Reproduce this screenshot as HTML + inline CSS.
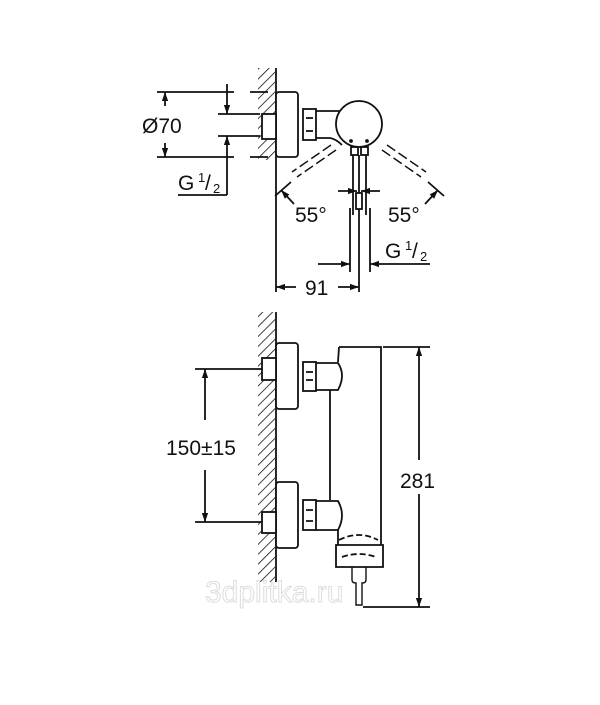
<!DOCTYPE html>
<html><head><meta charset="utf-8"><style>
html,body{margin:0;padding:0;background:#fff}
svg{display:block}
text{font-family:"Liberation Sans",Arial,sans-serif;fill:#111}
</style></head><body>
<svg width="600" height="705" viewBox="0 0 600 705" xmlns="http://www.w3.org/2000/svg">
<defs>
<pattern id="h" width="7" height="7" patternUnits="userSpaceOnUse" patternTransform="rotate(45)">
<line x1="0" y1="0" x2="0" y2="7" stroke="#111" stroke-width="1.6"/>
</pattern>
<marker id="a" viewBox="0 0 10 10" refX="10" refY="5" markerWidth="9" markerHeight="9" orient="auto-start-reverse" markerUnits="userSpaceOnUse">
<path d="M0,1.5 L10,5 L0,8.5 z" fill="#111"/>
</marker>
</defs>
<g stroke="#111" stroke-width="1.8" fill="none">
<!-- TOP VIEW -->
<rect x="258" y="68" width="17" height="92" fill="url(#h)" stroke="none"/>
<line x1="276" y1="68" x2="276" y2="292"/>
<rect x="276" y="92" width="22" height="65" rx="3" fill="#fff"/>
<rect x="262" y="114" width="14" height="25" fill="#fff"/>
<rect x="303" y="109" width="13" height="31" fill="#fff"/>
<line x1="306" y1="118" x2="313" y2="118"/><line x1="306" y1="131" x2="313" y2="131"/>
<path d="M316,111 L342,111 M316,138 L330,138 Q336,139 342,145"/>
<circle cx="359" cy="124" r="23" fill="#fff"/>
<circle cx="351" cy="141" r="1" fill="#111"/><circle cx="367" cy="141" r="1" fill="#111"/>
<rect x="351" y="147" width="7" height="8"/><rect x="361" y="147" width="7" height="8"/>
<line x1="353" y1="155" x2="353" y2="215"/><line x1="366" y1="155" x2="366" y2="215"/>
<rect x="356" y="193" width="6" height="16"/>
<line x1="359" y1="155" x2="359" y2="193"/>
<g stroke-dasharray="10,4" stroke-width="1.5">
<line x1="331" y1="145" x2="292" y2="172"/><line x1="336" y1="150" x2="297" y2="177"/>
<line x1="387" y1="145" x2="426" y2="172"/><line x1="382" y1="150" x2="421" y2="177"/>
</g>
<line x1="275" y1="196" x2="291" y2="182"/>
<line x1="444" y1="196" x2="428" y2="182"/>
<line x1="294" y1="204" x2="281" y2="190" marker-end="url(#a)"/>
<line x1="425" y1="204" x2="438" y2="190" marker-end="url(#a)"/>
<line x1="338" y1="191" x2="357" y2="191" marker-end="url(#a)"/>
<line x1="380" y1="191" x2="361" y2="191" marker-end="url(#a)"/>
<path d="M157,92 H234 M250,92 H268 M157,157 H234 M250,157 H268"/>
<line x1="165" y1="106" x2="165" y2="92" marker-end="url(#a)"/>
<line x1="165" y1="143" x2="165" y2="157" marker-end="url(#a)"/>
<path d="M218,114 H260 M218,136 H260"/>
<line x1="227" y1="84" x2="227" y2="114" marker-end="url(#a)"/>
<line x1="227" y1="195" x2="227" y2="136" marker-end="url(#a)"/>
<line x1="178" y1="195" x2="227" y2="195"/>
<line x1="350" y1="208" x2="350" y2="272"/><line x1="370" y1="208" x2="370" y2="272"/>
<line x1="318" y1="264" x2="350" y2="264" marker-end="url(#a)"/>
<line x1="430" y1="264" x2="370" y2="264" marker-end="url(#a)"/>
<line x1="359" y1="209" x2="359" y2="292"/>
<line x1="296" y1="287" x2="276" y2="287" marker-end="url(#a)"/>
<line x1="338" y1="287" x2="359" y2="287" marker-end="url(#a)"/>

<!-- FRONT VIEW -->
<rect x="258" y="312" width="17" height="270" fill="url(#h)" stroke="none"/>
<line x1="276" y1="312" x2="276" y2="582"/>
<rect x="276" y="343" width="22" height="66" rx="3" fill="#fff"/>
<rect x="276" y="482" width="22" height="66" rx="3" fill="#fff"/>
<rect x="262" y="358" width="14" height="22" fill="#fff"/>
<rect x="262" y="512" width="14" height="21" fill="#fff"/>
<rect x="303" y="362" width="13" height="29" fill="#fff"/>
<rect x="303" y="500" width="13" height="30" fill="#fff"/>
<path d="M306,372 h7 M306,380 h7 M306,510 h7 M306,521 h7"/>
<path d="M316,363 H338 Q346,375 338,390 H316 M316,501 H338 Q346,515 338,530 H316"/>
<path d="M339,347 H381 V545 M339,347 L338,362 M330,390 V500"/>
<path d="M338,530 V545"/>
<path d="M336,545 H383 V567 H336 Z"/>
<path d="M339,540 Q359,530 378,540" stroke-dasharray="6,3"/>
<path d="M342,557 Q359,551 376,557" stroke-dasharray="6,3"/>
<path d="M352,567 V580 Q352,583 356,583 V605 H362 V583 Q366,583 366,580 V567" stroke-width="1.4"/>
<path d="M195,369 H262 M195,522 H262"/>
<line x1="205" y1="420" x2="205" y2="369" marker-end="url(#a)"/>
<line x1="205" y1="470" x2="205" y2="522" marker-end="url(#a)"/>
<path d="M383,347 H430 M363,607 H430"/>
<line x1="419" y1="460" x2="419" y2="347" marker-end="url(#a)"/>
<line x1="419" y1="494" x2="419" y2="607" marker-end="url(#a)"/>
</g>
<g font-size="21">
<text x="142" y="133">Ø70</text>
<text x="178" y="190">G</text><text x="198" y="182" font-size="13">1</text><text x="205" y="190">/</text><text x="213" y="193" font-size="13">2</text>
<text x="295" y="222">55°</text>
<text x="388" y="222">55°</text>
<text x="385" y="258">G</text><text x="405" y="250" font-size="13">1</text><text x="412" y="258">/</text><text x="420" y="261" font-size="13">2</text>
<text x="305" y="295">91</text>
<text x="166" y="455">150±15</text>
<text x="400" y="488">281</text>
</g>
<text x="205" y="602" font-size="30" style="fill:#fff;stroke:#ddd;stroke-width:1">3dplitka.ru</text>
</svg>
</body></html>
